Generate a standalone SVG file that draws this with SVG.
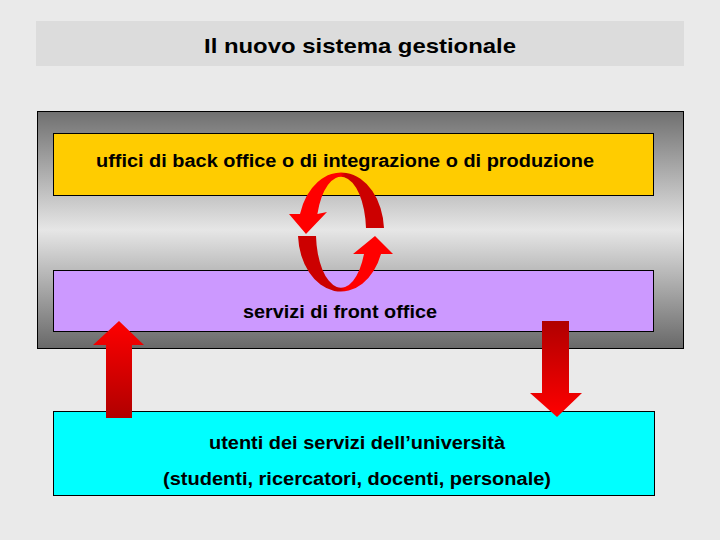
<svg xmlns="http://www.w3.org/2000/svg" width="720" height="540" viewBox="0 0 720 540">
<defs>
<style>
text{font-family:"Liberation Sans",Arial,sans-serif;fill:#000;text-anchor:middle;font-weight:bold}
.box{stroke:#000;stroke-width:1}
.t{font-size:17.5px}
</style>
<linearGradient id="gray" x1="0" y1="0" x2="0" y2="1">
<stop offset="0" stop-color="#707070"/>
<stop offset="0.5" stop-color="#e6e6e6"/>
<stop offset="1" stop-color="#686868"/>
</linearGradient>
<linearGradient id="up" x1="0" y1="0" x2="0" y2="1">
<stop offset="0" stop-color="#ff0000"/>
<stop offset="1" stop-color="#b00000"/>
</linearGradient>
<linearGradient id="down" x1="0" y1="0" x2="0" y2="1">
<stop offset="0" stop-color="#b00000"/>
<stop offset="1" stop-color="#ff0000"/>
</linearGradient>
<linearGradient id="arc1" gradientUnits="userSpaceOnUse" x1="300" y1="0" x2="390" y2="0">
<stop offset="0.45" stop-color="#ff0000"/>
<stop offset="0.5" stop-color="#cc0000"/>
</linearGradient>
<linearGradient id="arc2" gradientUnits="userSpaceOnUse" x1="298" y1="0" x2="390" y2="0">
<stop offset="0.45" stop-color="#cc0000"/>
<stop offset="0.52" stop-color="#ff0000"/>
</linearGradient>
</defs>
<rect width="720" height="540" fill="#eaeaea"/>
<g id="title">
<rect x="36" y="21" width="648" height="45" fill="#dcdcdc"/>
<text x="360" y="53" style="font-size:21px" textLength="312" lengthAdjust="spacingAndGlyphs">Il nuovo sistema gestionale</text>
</g>
<g id="system">
<rect class="box" x="37.5" y="111.5" width="646" height="237" fill="url(#gray)"/>
</g>
<g id="back-office">
<rect class="box" x="53.5" y="133.5" width="600" height="62" fill="#ffcc00"/>
<text class="t" x="345" y="167" textLength="498" lengthAdjust="spacingAndGlyphs">uffici di back office o di integrazione o di produzione</text>
</g>
<g id="front-office">
<rect class="box" x="53.5" y="270.5" width="600" height="61" fill="#cc99ff"/>
<text class="t" x="340" y="318" textLength="194" lengthAdjust="spacingAndGlyphs">servizi di front office</text>
</g>
<g id="utenti">
<rect class="box" x="53.5" y="411.5" width="601" height="84" fill="#00ffff"/>
<text class="t" x="357" y="449" textLength="296" lengthAdjust="spacingAndGlyphs">utenti dei servizi dell’università</text>
<text class="t" x="357" y="485" textLength="388" lengthAdjust="spacingAndGlyphs">(studenti, ricercatori, docenti, personale)</text>
</g>
<g id="connectors">
<path d="M384,228 A43,59 0 0 0 300,214 L289,214 L306,234 L327,212 L317.4,214 A25,55 0 0 1 366,228 Z" fill="url(#arc1)"/>
<path d="M298,236 A43,59 0 0 0 381,254 L393,254 L375,236 L353,254 L364,254 A25,55 0 0 1 316,236 Z" fill="url(#arc2)"/>
<path d="M119,321 L144,345 L132,345 L132,418 L106,418 L106,345 L93,345 Z" fill="url(#up)"/>
<path d="M542,321 L569,321 L569,393 L582,393 L557,417 L530,393 L542,393 Z" fill="url(#down)"/>
</g>
</svg>
